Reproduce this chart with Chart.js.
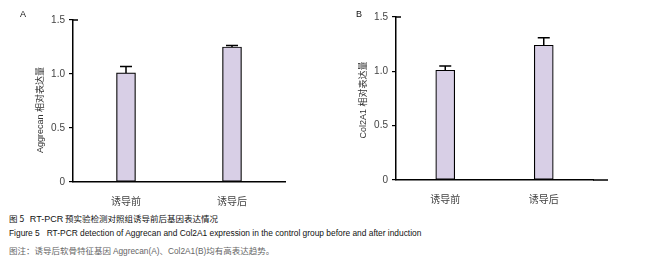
<!DOCTYPE html>
<html>
<head>
<meta charset="utf-8">
<script src="https://cdn.jsdelivr.net/npm/chart.js@4/dist/chart.umd.min.js"></script>
<style>
  body { margin: 0; background: #fff; width: 668px; height: 264px; position: relative; overflow: hidden; }
  canvas { position: absolute; top: 0; }
  #cA { left: 0; }
  #cB { left: 334px; }
  .cap { position: absolute; left: 9px; white-space: nowrap; font-family: "Noto Sans CJK SC", "Liberation Sans", sans-serif; font-size: 8.5px; line-height: 12px; }
  .en { font-family: "Liberation Sans", Arial, sans-serif; }
</style>
</head>
<body>
<canvas id="cA" width="334" height="210"></canvas>
<canvas id="cB" width="334" height="210"></canvas>
<div class="cap" style="top:212px;color:#111">图 5&nbsp;&nbsp;&nbsp;<span class="en" style="font-size:9px">RT-PCR</span> 预实验检测对照组诱导前后基因表达情况</div>
<div class="cap en" style="top:227px;color:#111;font-size:8.4px">Figure 5&nbsp;&nbsp;&nbsp;RT-PCR detection of Aggrecan and Col2A1 expression in the control group before and after induction</div>
<div class="cap" style="top:244px;color:#666">图注：诱导后软骨特征基因 <span class="en" style="font-size:8.3px">Aggrecan(A)</span>、<span class="en" style="font-size:8.3px">Col2A1(B)</span>均有高表达趋势。</div>
<script>
const groups = ["诱导前", "诱导后"];
const yTicks = [0, 0.5, 1.0, 1.5];
const aggrecan = [1.01, 1.25];
const aggrecanErr = [0.06, 0.015];
const col2a1 = [1.01, 1.24];
const col2a1Err = [0.04, 0.07];

// error bars + axis decorations
const decor = {
  id: "decor",
  afterDatasetsDraw(chart, args, opts) {
    const ctx = chart.ctx;
    const x = chart.scales.x, y = chart.scales.y;
    const vals = chart.data.datasets[0].data;
    ctx.save();
    ctx.strokeStyle = "#000";
    ctx.lineWidth = 1.5;
    vals.forEach((v, i) => {
      const cx = x.getPixelForValue(i);
      const y0 = y.getPixelForValue(v);
      const y1 = y.getPixelForValue(v + opts.err[i]);
      ctx.beginPath();
      ctx.moveTo(cx, y0);
      ctx.lineTo(cx, y1);
      ctx.moveTo(cx - 6, y1);
      ctx.lineTo(cx + 6, y1);
      ctx.stroke();
    });
    // top cap of y axis and x axis extension
    const top = y.getPixelForValue(1.5);
    ctx.beginPath();
    ctx.moveTo(x.left, top);
    ctx.lineTo(x.left + 5, top);
    ctx.moveTo(x.right, y.bottom);
    ctx.lineTo(x.right + opts.extend, y.bottom);
    ctx.stroke();
    // y axis title
    ctx.translate(opts.titleX, opts.titleY);
    ctx.rotate(-Math.PI / 2);
    ctx.fillStyle = "#333";
    ctx.font = '9px "Liberation Sans", "Noto Sans CJK SC", sans-serif';
    ctx.textAlign = "center";
    ctx.textBaseline = "middle";
    ctx.fillText(opts.title, 0, 0);
    ctx.restore();
    // panel letter
    ctx.save();
    ctx.fillStyle = "#111";
    ctx.font = '9px "Liberation Sans", sans-serif';
    ctx.textBaseline = "middle";
    ctx.fillText(opts.panel, opts.panelX, 15);
    ctx.restore();
  }
};

function makeChart(id, values, err, p) {
  return new Chart(document.getElementById(id), {
    type: "bar",
    data: {
      labels: groups,
      datasets: [{
        data: values,
        backgroundColor: "#d8cfe6",
        borderColor: "#000",
        borderWidth: 1.2,
        borderSkipped: false,
        barThickness: 19
      }]
    },
    options: {
      responsive: false,
      animation: false,
      devicePixelRatio: 1,
      layout: { padding: { top: p.top, right: p.right, left: 0, bottom: 0 } },
      plugins: {
        legend: { display: false },
        tooltip: { enabled: false },
        decor: { err: err, extend: p.extend, title: p.title, titleX: p.titleX, titleY: p.titleY, panel: p.panel, panelX: p.panelX }
      },
      scales: {
        x: {
          offset: true,
          afterFit: s => { s.height = p.xH; },
          grid: { display: false, drawTicks: false },
          border: { color: "#000", width: 1.5 },
          ticks: { color: "#444", padding: 13, font: { family: "Noto Sans CJK SC", size: 10 } }
        },
        y: {
          min: 0,
          max: 1.5,
          afterFit: s => { s.width = p.yW; },
          afterBuildTicks: s => { s.ticks = yTicks.map(v => ({ value: v })); },
          grid: { drawOnChartArea: false, tickLength: 4, color: "#000", lineWidth: 1.2 },
          border: { color: "#000", width: 1.5 },
          ticks: {
            color: "#444",
            padding: 4,
            font: { family: "Liberation Sans", size: 10 },
            callback: v => v === 0 ? "0" : v.toFixed(1)
          }
        }
      }
    },
    plugins: [decor]
  });
}

makeChart("cA", aggrecan, aggrecanErr, {
  top: 20, right: 49, xH: 28, yW: 73, extend: 0,
  title: "Aggrecan 相对表达量", titleX: 41, titleY: 110, panel: "A", panelX: 20
});
makeChart("cB", col2a1, col2a1Err, {
  top: 17, right: 75, xH: 30, yW: 62, extend: 15,
  title: "Col2A1 相对表达量", titleX: 30, titleY: 100, panel: "B", panelX: 22
});
</script>
</body>
</html>
